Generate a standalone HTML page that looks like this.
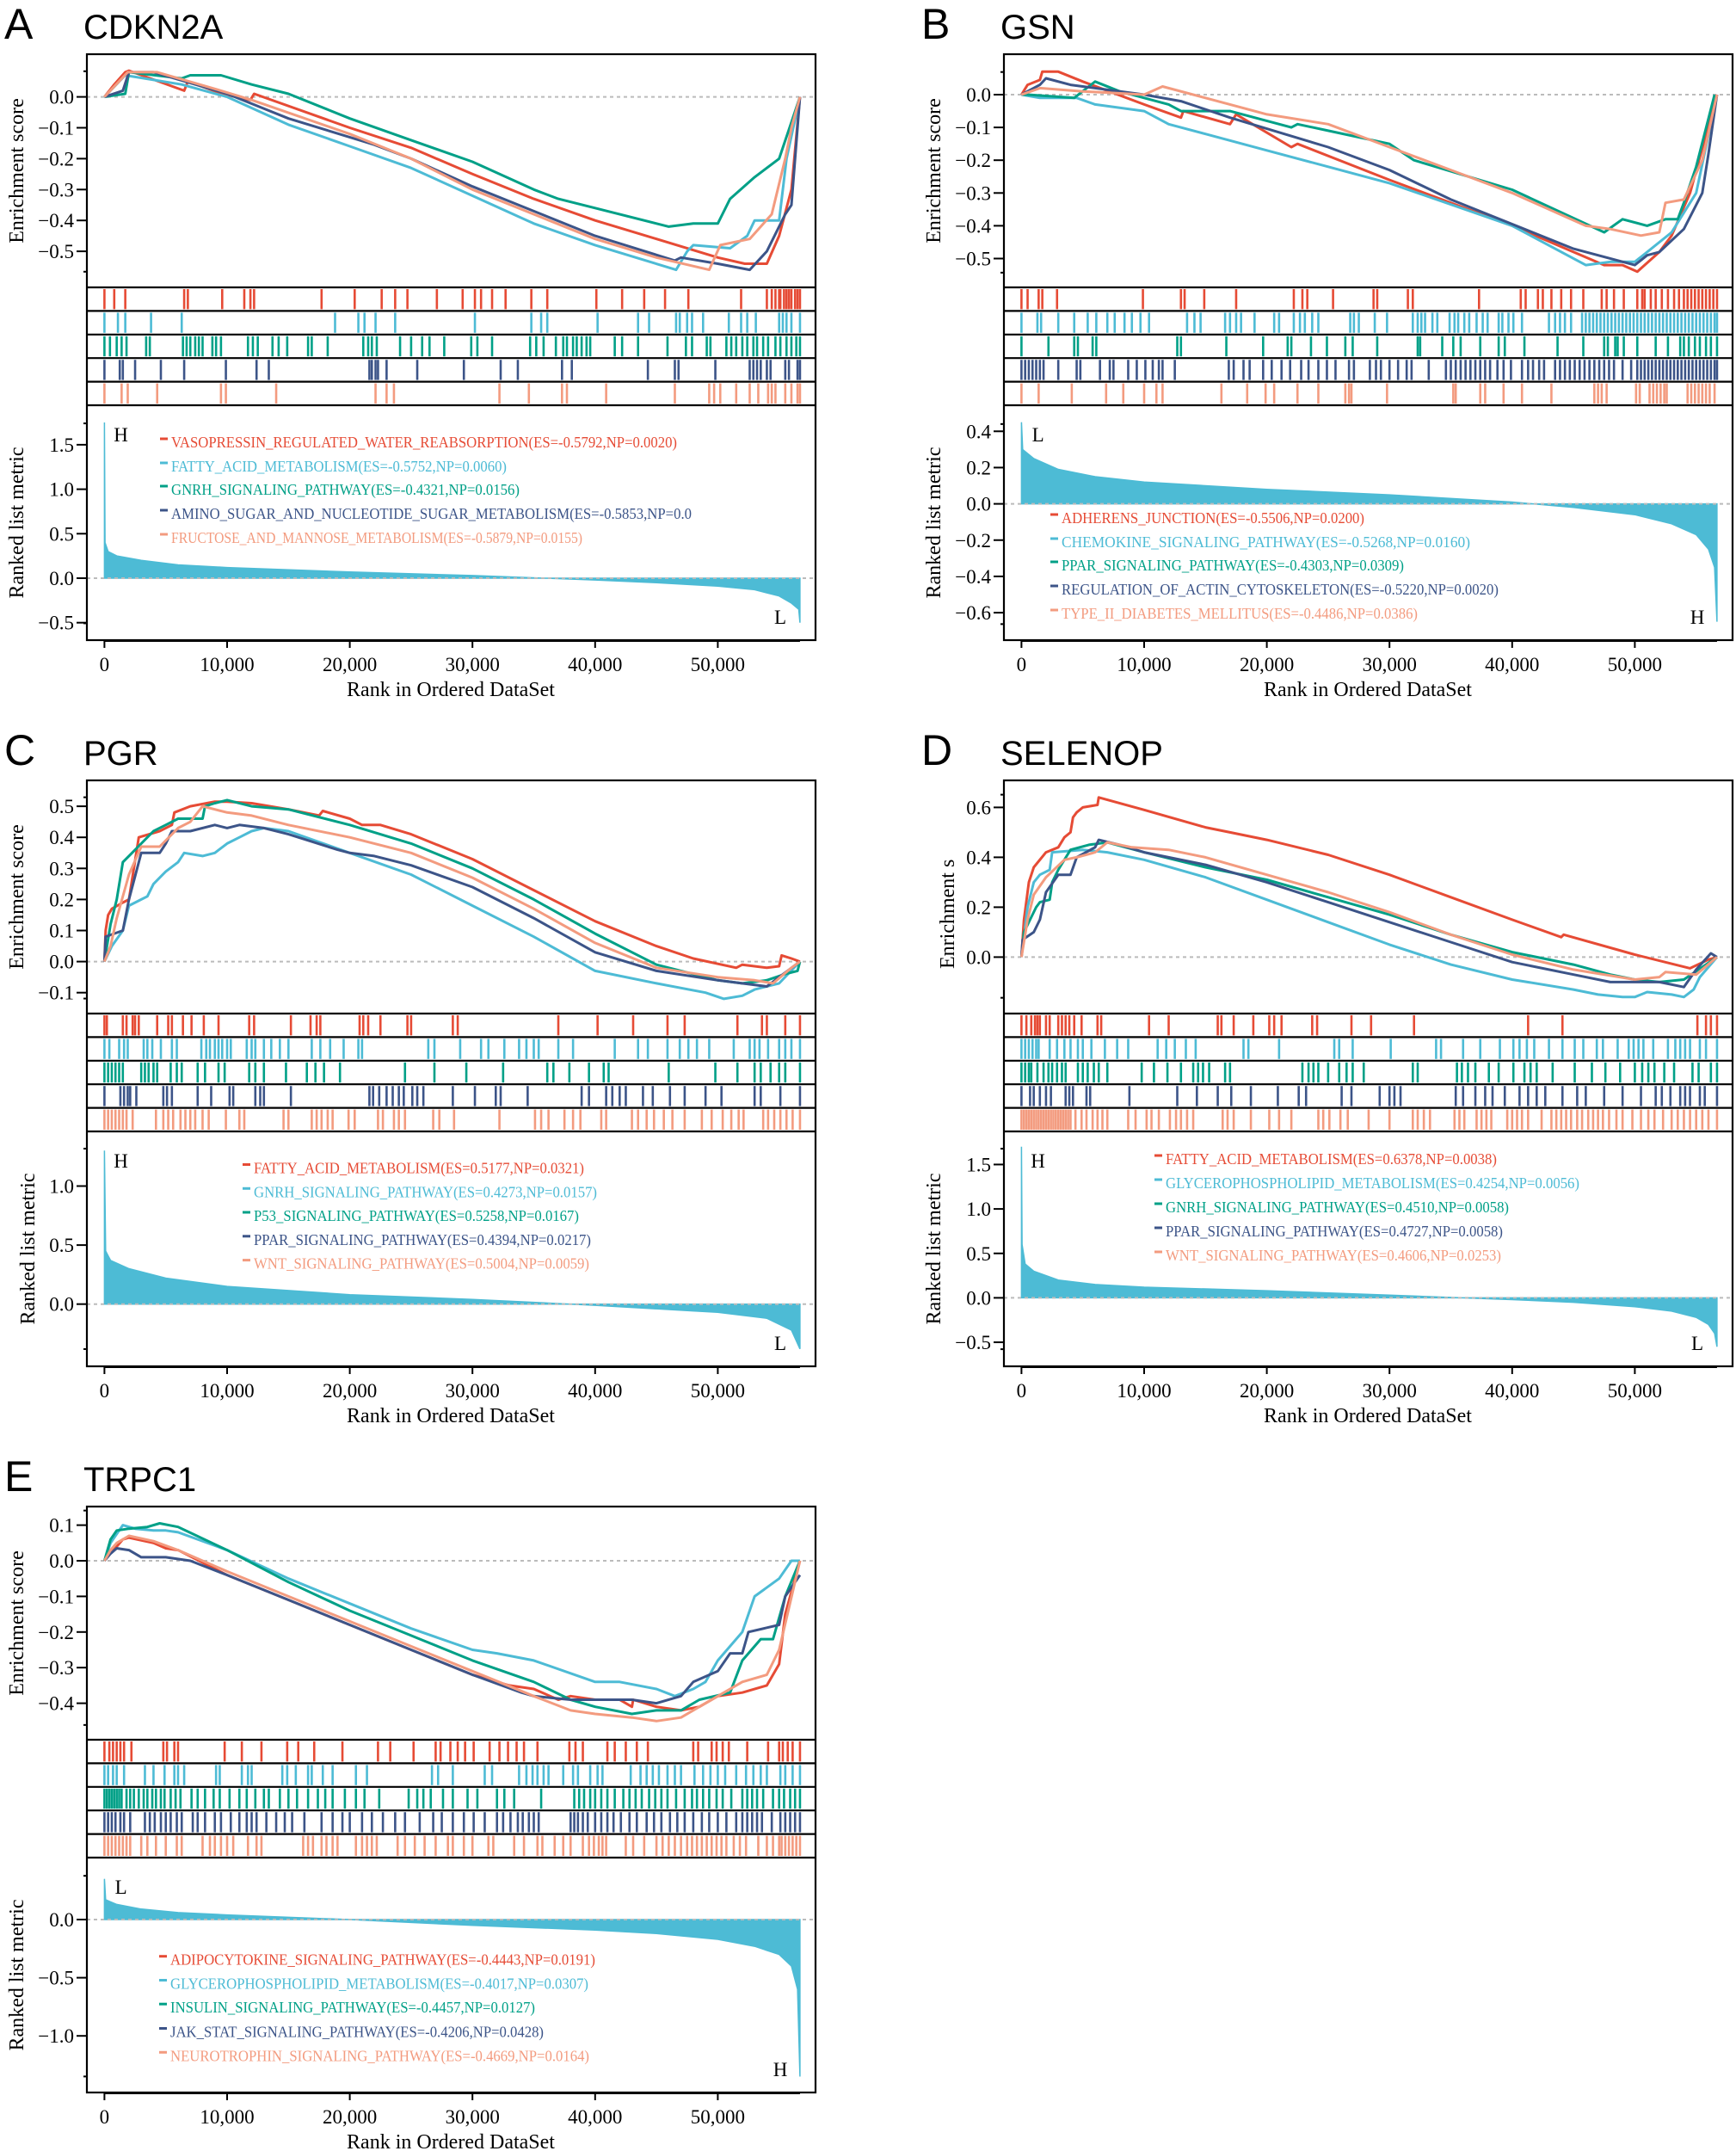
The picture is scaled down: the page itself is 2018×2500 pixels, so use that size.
<!DOCTYPE html>
<html><head><meta charset="utf-8"><style>
html,body{margin:0;padding:0;background:#fff;}
svg{display:block;}
</style></head><body>
<svg id="fig" xmlns="http://www.w3.org/2000/svg" width="2018" height="2500" viewBox="0 0 2018 2500"></svg>
<script>
// ---------- shared ----------
const seriesColors = ['#E64B35','#4DBBD5','#00A087','#3C5488','#F39B7F'];
const seriesKeys = ['red','cyan','green','navy','salmon'];
const xTicks = [0,10000,20000,30000,40000,50000];
const xTickLabels = ['0','10,000','20,000','30,000','40,000','50,000'];

// ---------- Panel A : CDKN2A (rank in thousands, ES) ----------
const A_es_red = [[0,0],[0.8,0.04],[1.7,0.08],[2,0.085],[6.5,0.02],[6.8,0.05],[9.6,0.01],[11.9,-0.01],[12.2,0.01],[20,-0.1],[25,-0.165],[30,-0.25],[35,-0.33],[40,-0.4],[45,-0.46],[50,-0.52],[52.2,-0.54],[54,-0.54],[55,-0.45],[56,-0.3],[56.7,0]];
const A_es_cyan = [[0,0],[1.7,0.07],[6.3,0.04],[10,0],[15,-0.09],[20,-0.16],[25,-0.23],[30,-0.32],[35,-0.41],[40,-0.48],[46.6,-0.56],[47.5,-0.5],[48,-0.48],[51,-0.49],[52.4,-0.45],[53,-0.4],[55,-0.4],[55.6,-0.2],[56.7,0]];
const A_es_green = [[0,0],[1.7,0.01],[2,0.08],[6.3,0.06],[7,0.07],[9.5,0.07],[12,0.04],[15,0.01],[20,-0.07],[25,-0.14],[30,-0.21],[35,-0.3],[37,-0.33],[40,-0.36],[45,-0.41],[46,-0.42],[48,-0.41],[50,-0.41],[51,-0.33],[53,-0.26],[55,-0.2],[56.7,0]];
const A_es_navy = [[0,0],[1.5,0.02],[2,0.08],[4,0.08],[10,0.01],[15,-0.07],[22,-0.155],[25,-0.2],[30,-0.29],[35,-0.37],[40,-0.45],[46.5,-0.53],[47,-0.52],[50,-0.54],[52.6,-0.56],[54,-0.5],[55.5,-0.38],[56,-0.35],[56.7,0]];
const A_es_salmon = [[0,0],[1.9,0.08],[4.3,0.08],[9.5,0.02],[12,-0.01],[20,-0.12],[25,-0.2],[30,-0.3],[35,-0.38],[40,-0.46],[45,-0.52],[49.3,-0.56],[50.2,-0.48],[52.6,-0.46],[54.4,-0.38],[55.5,-0.2],[56,-0.1],[56.7,0]];
const A_rug_red = [0,0.8,1.7,6.5,6.8,9.6,11.4,11.9,12.2,17.7,20.4,22.6,23.7,24.7,27.1,29.2,30.2,30.7,31.6,32.7,34.8,36.1,40.1,42.2,44.0,45.7,47.6,51.9,54.0,54.4,54.7,55.0,55.1,55.4,55.6,55.8,56.0,56.3,56.5,56.7];
const A_rug_cyan = [0,1.1,1.7,3.8,6.3,18.8,20.7,21.2,22.1,23.7,30.2,34.8,35.6,36.1,40.2,43.5,44.4,46.6,46.9,47.5,47.9,48.8,50.9,51.9,52.4,53.1,55.0,55.3,55.6,56.0,56.7];
const A_rug_green = [0,0.45,1.0,1.4,1.8,3.4,3.7,6.4,6.7,7.0,7.4,7.7,8.0,8.8,9.1,9.5,11.7,12.1,12.5,13.7,14.2,14.9,16.6,16.9,18.2,21.1,21.5,21.8,22.2,24.1,25.0,25.9,26.5,27.7,29.9,30.4,31.6,34.7,35.2,35.8,36.8,37.4,37.7,38.2,38.5,38.9,39.3,39.6,41.6,42.2,43.5,45.9,47.4,47.9,49.1,49.4,50.7,51.1,51.5,52.0,52.4,52.9,53.2,53.7,54.1,54.7,55.1,55.6,56.0,56.4,56.7];
const A_rug_navy = [0,1.25,1.5,2.5,4.6,6.5,9.9,12.4,13.4,21.6,21.8,22.1,22.3,23.0,25.5,29.3,32.3,33.7,37.3,38.1,44.3,46.5,46.8,49.8,52.6,52.9,53.2,53.5,54.0,54.3,55.5,55.8,56.5,56.7];
const A_rug_salmon = [0,1.4,1.9,4.3,9.5,9.9,14.0,22.1,23.0,23.6,32.2,34.6,37.3,37.7,40.9,46.5,49.3,49.7,50.2,51.5,52.6,53.3,54.1,54.4,54.7,55.5,56.0,56.5,56.7];
const A_ranked = [[0,1.75],[0.05,0.4],[0.3,0.3],[1,0.25],[3,0.2],[6,0.15],[10,0.12],[20,0.07],[30,0.03],[40,-0.02],[45,-0.05],[50,-0.09],[53,-0.13],[55,-0.2],[56,-0.28],[56.6,-0.35],[56.7,-0.5]];
const A_esTicks = [0.0,-0.1,-0.2,-0.3,-0.4,-0.5];
const A_rankTicks = [1.5,1.0,0.5,0.0,-0.5];
const A_legend = ['VASOPRESSIN_REGULATED_WATER_REABSORPTION(ES=-0.5792,NP=0.0020)','FATTY_ACID_METABOLISM(ES=-0.5752,NP=0.0060)','GNRH_SIGNALING_PATHWAY(ES=-0.4321,NP=0.0156)','AMINO_SUGAR_AND_NUCLEOTIDE_SUGAR_METABOLISM(ES=-0.5853,NP=0.0','FRUCTOSE_AND_MANNOSE_METABOLISM(ES=-0.5879,NP=0.0155)'];

// ---------- Panel B : GSN ----------
const B_es_red = [[0,0],[0.5,0.03],[1.5,0.045],[1.7,0.07],[3,0.07],[5,0.04],[10,-0.03],[13,-0.07],[13.2,-0.05],[17,-0.09],[17.5,-0.06],[22,-0.16],[22.5,-0.15],[30,-0.26],[40,-0.4],[45,-0.48],[47.5,-0.52],[49,-0.52],[50.2,-0.54],[50.8,-0.52],[52,-0.48],[53,-0.43],[54.5,-0.3],[56.7,0]];
const B_es_cyan = [[0,0],[1.5,-0.01],[4.5,-0.01],[6,-0.03],[10,-0.05],[12,-0.09],[15,-0.12],[20,-0.17],[25,-0.22],[30,-0.27],[40,-0.4],[46,-0.52],[48,-0.51],[50,-0.51],[51,-0.48],[53,-0.42],[55,-0.3],[56.7,0]];
const B_es_green = [[0,0],[0.5,0],[4.3,-0.01],[6,0.04],[8,0.01],[12,-0.03],[13,-0.05],[16,-0.05],[17,-0.05],[22,-0.1],[22.5,-0.09],[25,-0.11],[30,-0.15],[32,-0.2],[40,-0.29],[47.5,-0.42],[49,-0.38],[51,-0.4],[52.5,-0.38],[53.5,-0.38],[54,-0.33],[55,-0.22],[56.5,0]];
const B_es_navy = [[0,0],[1.5,0.03],[2,0.05],[4,0.03],[10,0],[13,-0.02],[17,-0.07],[25,-0.16],[30,-0.23],[35,-0.32],[45,-0.47],[50,-0.52],[51,-0.49],[52,-0.48],[54,-0.41],[55.5,-0.3],[56,-0.18],[56.7,0]];
const B_es_salmon = [[0,0],[1.5,0.02],[5,0.01],[10,0],[11.5,0.025],[15,-0.01],[20,-0.06],[25,-0.09],[30,-0.16],[35,-0.23],[40,-0.3],[46,-0.4],[48,-0.41],[50.5,-0.43],[52,-0.42],[52.5,-0.33],[54,-0.32],[55.5,-0.2],[56.7,0]];
const B_rug_red = [0,0.5,1.4,1.7,2.9,9.9,13.0,13.3,14.9,17.5,22.2,22.9,23.3,25.4,28.7,29.0,31.5,31.9,37.3,40.7,41.1,42.1,42.5,43.2,44.0,44.8,45.8,47.3,47.7,48.3,49.1,50.2,50.6,50.8,51.3,51.7,52.2,52.7,53.2,53.6,54.0,54.3,54.6,54.9,55.2,55.5,55.8,56.1,56.4,56.7];
const B_rug_cyan = [0,1.3,1.6,3.0,4.3,5.4,6.1,7.0,7.6,8.4,9.0,9.7,10.4,13.5,14.1,14.6,16.6,17.0,17.5,17.9,19.0,20.6,21.0,22.2,22.7,23.1,23.7,24.2,26.8,27.1,27.5,28.8,29.8,31.9,32.3,32.6,32.9,33.5,33.9,34.9,35.3,35.6,36.1,36.5,37.1,37.6,38.0,38.9,39.2,39.7,40.1,40.8,43.0,43.5,43.9,44.3,44.8,45.7,46.0,46.3,46.6,46.9,47.2,47.5,47.8,48.1,48.4,48.7,49.0,49.3,49.6,49.9,50.2,50.5,50.8,51.1,51.4,51.7,52.0,52.3,52.6,52.9,53.2,53.5,53.8,54.1,54.4,54.7,55.0,55.3,55.6,55.9,56.2,56.5,56.7];
const B_rug_green = [0,2.2,4.3,4.6,5.8,6.1,12.7,13.0,16.7,19.7,21.7,22.0,23.6,24.9,26.4,27.0,29.0,32.3,32.5,34.3,35.2,35.8,37.4,38.9,39.4,41.0,43.7,45.8,47.5,47.8,48.4,48.6,49.1,50.2,51.7,52.7,53.7,54.0,54.4,54.9,55.3,55.8,56.2,56.7];
const B_rug_navy = [0,0.3,0.6,0.9,1.2,1.5,1.8,3.0,4.5,4.8,6.4,7.2,7.5,8.7,9.4,10.1,10.7,11.2,11.5,12.5,16.9,17.3,18.1,18.6,19.7,20.4,21.2,21.9,22.8,23.4,24.2,24.9,25.6,26.7,27.1,28.4,28.9,29.3,30.0,30.7,31.4,31.8,33.2,34.6,35.0,35.4,35.8,36.2,36.6,37.0,37.4,37.8,38.2,38.8,39.3,39.9,40.8,41.3,41.7,42.2,42.6,43.5,43.9,44.3,44.7,45.1,45.5,45.9,46.3,46.7,47.1,47.5,47.9,48.3,49.0,49.7,50.2,50.5,50.8,51.1,51.4,51.7,52.0,52.3,52.6,52.9,53.2,53.5,53.8,54.1,54.4,54.7,55.0,55.3,55.6,55.9,56.2,56.5,56.7];
const B_rug_salmon = [0,1.4,4.1,6.9,8.3,10.0,11.0,11.5,16.3,18.4,19.9,20.6,22.5,24.2,26.4,26.7,26.9,29.8,35.2,35.4,37.4,37.8,39.3,40.8,43.2,46.7,47.0,47.3,47.7,50.1,50.4,51.2,51.5,51.8,52.1,52.4,52.6,54.3,54.6,54.9,55.2,55.5,55.8,56.1,56.5];
const B_ranked = [[0,0.45],[0.1,0.3],[1,0.25],[3,0.19],[6,0.15],[10,0.12],[20,0.08],[30,0.05],[40,0.01],[45,-0.02],[50,-0.06],[53,-0.11],[55,-0.17],[56,-0.25],[56.5,-0.35],[56.7,-0.65]];
const B_esTicks = [0.0,-0.1,-0.2,-0.3,-0.4,-0.5];
const B_rankTicks = [0.4,0.2,0.0,-0.2,-0.4,-0.6];
const B_legend = ['ADHERENS_JUNCTION(ES=-0.5506,NP=0.0200)','CHEMOKINE_SIGNALING_PATHWAY(ES=-0.5268,NP=0.0160)','PPAR_SIGNALING_PATHWAY(ES=-0.4303,NP=0.0309)','REGULATION_OF_ACTIN_CYTOSKELETON(ES=-0.5220,NP=0.0020)','TYPE_II_DIABETES_MELLITUS(ES=-0.4486,NP=0.0386)'];

// ---------- Panel C : PGR ----------
const C_es_red = [[0,0],[0.1,0.1],[0.3,0.15],[0.6,0.17],[1.5,0.19],[2,0.2],[2.8,0.4],[4.5,0.42],[5.5,0.44],[5.7,0.48],[7,0.5],[9,0.515],[10,0.515],[12,0.51],[15,0.49],[17.5,0.47],[17.8,0.485],[20,0.46],[21,0.44],[22.5,0.44],[25,0.41],[30,0.33],[35,0.23],[40,0.13],[45,0.05],[48,0.01],[51.5,-0.02],[52,-0.01],[54,-0.02],[55,-0.015],[55.2,0.02],[56,0.01],[56.7,0]];
const C_es_cyan = [[0,0],[0.6,0.05],[1.5,0.1],[2,0.18],[3,0.2],[3.5,0.21],[4,0.25],[5,0.29],[6,0.32],[6.5,0.35],[8,0.34],[9,0.35],[10,0.38],[11,0.4],[12,0.42],[13,0.43],[15,0.42],[20,0.35],[25,0.28],[30,0.18],[35,0.08],[40,-0.03],[45,-0.07],[49,-0.1],[50.5,-0.12],[52,-0.11],[53,-0.09],[55,-0.07],[56.7,0]];
const C_es_green = [[0,0],[0.5,0.12],[1,0.2],[1.5,0.32],[2,0.34],[4,0.42],[5,0.44],[6,0.46],[8,0.46],[8.2,0.5],[9,0.51],[10,0.52],[12,0.5],[15,0.49],[20,0.44],[25,0.38],[30,0.3],[35,0.2],[40,0.09],[45,-0.01],[50,-0.06],[52,-0.07],[54,-0.06],[55.5,-0.04],[56.5,-0.03],[56.7,0]];
const C_es_navy = [[0,0],[0.1,0.08],[1.5,0.1],[2,0.2],[3,0.35],[4.5,0.35],[5,0.38],[5.5,0.42],[7,0.42],[9,0.44],[10,0.43],[11,0.44],[13,0.43],[15,0.41],[19,0.36],[20,0.35],[22,0.34],[25,0.31],[30,0.24],[35,0.14],[40,0.03],[45,-0.03],[50,-0.06],[54,-0.08],[55,-0.05],[56.7,0]];
const C_es_salmon = [[0,0],[0.5,0.05],[1,0.14],[2,0.28],[3,0.37],[4.5,0.37],[6,0.43],[7,0.45],[8,0.5],[9,0.49],[10,0.48],[12,0.47],[15,0.44],[20,0.4],[25,0.35],[30,0.27],[35,0.17],[40,0.06],[45,-0.02],[50,-0.05],[53,-0.06],[54.5,-0.07],[56,-0.02],[56.7,0]];
const C_rug_red = [0,0.2,1.5,1.8,2.3,2.5,2.8,4.3,5.2,5.5,6.4,7.1,8.1,9.3,11.8,12.2,15.2,16.8,17.3,17.6,20.8,21.1,21.5,22.5,24.7,25.0,28.4,28.8,37.0,40.2,43.1,45.9,47.3,51.6,53.6,54.0,55.5,56.7];
const C_rug_cyan = [0,0.4,1.2,1.6,1.9,3.2,3.5,3.9,4.6,5.5,5.9,7.9,8.3,8.6,9.0,9.3,9.6,10.0,10.3,11.6,12.0,12.3,13.0,13.6,14.3,15.0,16.9,17.6,18.4,19.5,20.7,21.0,26.4,26.9,29.0,30.7,31.3,32.6,33.8,34.4,35.0,35.4,37.0,38.2,41.6,43.5,44.3,45.9,46.9,47.6,48.3,49.3,51.3,52.6,53.0,53.4,54.1,55.0,55.5,56.0,56.7];
const C_rug_green = [0,0.3,0.6,0.9,1.2,1.5,3.0,3.3,3.6,4.0,4.3,5.4,5.9,6.3,7.6,8.2,9.3,9.8,11.8,12.3,13.0,14.8,16.5,17.2,17.9,19.2,24.5,26.9,29.5,32.5,36.1,36.6,37.9,39.5,40.7,41.1,46.0,49.8,51.6,53.0,53.5,54.3,55.0,55.5,56.7];
const C_rug_navy = [0,1.3,1.6,1.9,2.1,2.6,4.8,5.1,5.5,7.6,8.7,10.2,10.5,12.3,12.7,13.0,15.2,21.6,21.9,22.4,23.0,23.5,24.0,24.4,25.1,25.5,26.0,28.4,30.2,31.9,32.3,34.5,38.9,39.5,40.9,41.4,42.0,42.5,43.9,44.7,46.1,47.3,49.0,50.3,53.0,53.5,55.1,56.7];
const C_rug_salmon = [0,0.3,0.6,0.9,1.2,1.5,1.8,2.3,4.2,4.8,5.2,5.6,6.2,6.6,7.0,7.4,8.0,8.5,9.9,11.0,11.4,14.6,15.0,16.9,17.3,17.7,18.2,18.6,19.9,20.4,22.3,22.7,23.6,24.0,24.5,26.8,27.3,28.5,32.2,35.1,35.6,36.2,37.5,38.2,38.8,40.5,40.9,43.0,43.5,44.2,44.8,45.6,46.3,47.3,48.7,49.5,50.4,51.1,51.7,52.1,53.7,54.1,54.6,55.1,55.6,56.1,56.7];
const C_ranked = [[0,1.3],[0.1,0.45],[0.5,0.37],[2,0.3],[5,0.22],[10,0.15],[20,0.08],[30,0.04],[40,-0.01],[50,-0.07],[54,-0.12],[56,-0.22],[56.7,-0.38]];
const C_esTicks = [0.5,0.4,0.3,0.2,0.1,0.0,-0.1];
const C_rankTicks = [1.0,0.5,0.0];
const C_legend = ['FATTY_ACID_METABOLISM(ES=0.5177,NP=0.0321)','GNRH_SIGNALING_PATHWAY(ES=0.4273,NP=0.0157)','P53_SIGNALING_PATHWAY(ES=0.5258,NP=0.0167)','PPAR_SIGNALING_PATHWAY(ES=0.4394,NP=0.0217)','WNT_SIGNALING_PATHWAY(ES=0.5004,NP=0.0059)'];

// ---------- Panel D : SELENOP ----------
const D_es_red = [[0,0],[0.2,0.15],[0.6,0.3],[1,0.36],[2,0.42],[3,0.44],[3.5,0.48],[4,0.5],[4.2,0.56],[4.5,0.58],[5,0.6],[6.2,0.61],[6.3,0.64],[10,0.59],[15,0.52],[17,0.5],[20,0.47],[25,0.41],[30,0.33],[35,0.24],[40,0.15],[44,0.08],[44.2,0.09],[50,0.01],[54.5,-0.045],[56,-0.01],[56.7,0]];
const D_es_cyan = [[0,0],[0.5,0.2],[1,0.3],[1.5,0.33],[2.3,0.35],[2.5,0.42],[5,0.43],[7,0.42],[10,0.39],[15,0.32],[20,0.23],[25,0.14],[30,0.05],[35,-0.03],[40,-0.09],[45,-0.13],[47,-0.15],[49,-0.16],[50,-0.16],[51,-0.14],[53,-0.15],[54,-0.16],[54.8,-0.13],[55.3,-0.08],[56.7,0]];
const D_es_green = [[0,0],[0.2,0.1],[1.2,0.2],[1.5,0.22],[2.3,0.23],[2.5,0.3],[3,0.35],[4,0.43],[5.5,0.45],[7,0.46],[10,0.42],[15,0.36],[20,0.31],[25,0.24],[30,0.17],[35,0.09],[40,0.02],[45,-0.03],[48,-0.07],[50,-0.09],[52,-0.1],[54,-0.09],[55.5,-0.04],[56.7,0]];
const D_es_navy = [[0,0],[0.1,0.07],[1,0.1],[1.5,0.15],[2,0.26],[3,0.33],[4,0.33],[4.5,0.4],[6,0.44],[6.3,0.47],[8,0.45],[10,0.42],[15,0.37],[20,0.3],[25,0.22],[30,0.14],[35,0.06],[40,-0.02],[45,-0.07],[48,-0.1],[50,-0.1],[52,-0.1],[54,-0.12],[55,-0.05],[56.2,0.015],[56.7,0]];
const D_es_salmon = [[0,0],[0.5,0.15],[1,0.25],[2,0.32],[3.5,0.39],[4.5,0.4],[6,0.42],[7,0.46],[9,0.44],[12,0.43],[15,0.4],[20,0.33],[25,0.26],[30,0.18],[35,0.09],[40,0.01],[45,-0.05],[50,-0.09],[52,-0.08],[52.5,-0.06],[55,-0.07],[56.7,0]];
const D_rug_red = [0,0.4,0.8,1.1,1.3,1.5,2.0,2.3,3.0,3.3,3.6,3.9,4.3,4.9,6.2,6.5,10.4,12.0,16.0,16.3,17.3,18.9,20.2,20.6,21.2,23.7,24.1,26.9,28.5,32.0,41.3,44.1,55.1,55.8,56.2,56.7];
const D_rug_cyan = [0,0.3,0.6,0.9,1.2,1.4,2.3,2.9,3.5,4.0,4.6,5.0,5.7,6.8,7.8,8.7,11.1,11.8,12.5,13.4,14.2,18.1,18.5,21.0,25.5,25.9,27.0,30.1,33.8,34.2,36.0,37.4,39.0,40.1,40.6,41.2,41.8,43.0,44.1,45.1,45.8,46.9,47.4,48.6,49.5,49.9,50.3,50.7,51.5,52.7,53.3,53.7,54.1,54.5,55.3,55.8,56.7];
const D_rug_green = [0,0.3,0.6,0.8,1.3,1.8,2.2,2.5,2.9,3.3,3.6,4.6,5.0,5.4,5.9,6.3,7.0,9.8,10.8,11.9,13.0,14.0,14.4,14.8,15.3,16.6,17.0,22.9,23.4,23.8,24.2,25.0,25.9,26.5,27.0,27.9,31.9,32.3,35.5,35.9,36.4,37.0,38.1,38.9,40.1,41.0,41.5,42.0,43.3,45.1,46.5,47.6,48.8,50.0,50.6,51.1,51.6,52.4,53.2,54.7,55.2,56.2,56.7];
const D_rug_navy = [0,0.7,1.0,1.5,2.0,2.4,3.6,3.9,4.2,5.3,5.6,8.8,12.7,14.3,16.0,17.1,18.7,20.9,22.6,23.2,26.1,26.9,29.2,30.0,30.4,30.9,35.4,36.0,37.0,37.8,38.4,39.4,40.6,41.3,42.0,42.7,44.1,45.3,46.0,47.5,49.0,50.5,51.7,52.2,52.9,53.7,54.1,54.5,55.3,55.7,56.7];
const D_rug_salmon = [0,0.2,0.4,0.6,0.8,1.0,1.2,1.4,1.6,1.8,2.0,2.2,2.4,2.6,2.8,3.0,3.2,3.4,3.6,3.8,4.0,4.4,4.9,5.3,5.8,6.2,6.6,7.0,8.7,9.3,10.2,10.6,11.2,12.1,12.6,13.0,13.5,14.0,16.4,16.8,17.3,18.7,20.2,21.0,22.0,24.2,24.6,25.1,26.0,26.6,28.3,30.0,31.9,32.3,32.8,33.3,35.3,35.7,36.1,37.1,37.5,37.9,38.3,39.6,40.0,40.4,40.8,41.3,42.4,43.2,43.6,44.0,44.4,44.8,45.3,45.7,46.2,46.6,47.0,47.4,47.9,48.5,49.0,49.8,50.5,51.1,51.6,52.3,53.0,53.5,54.0,54.5,55.0,55.5,56.0,56.7];
const D_ranked = [[0,1.7],[0.05,0.6],[0.3,0.38],[1,0.3],[3,0.2],[6,0.15],[10,0.12],[20,0.08],[30,0.03],[40,-0.02],[45,-0.05],[50,-0.1],[53,-0.15],[55,-0.22],[56,-0.3],[56.5,-0.4],[56.7,-0.55]];
const D_esTicks = [0.6,0.4,0.2,0.0];
const D_rankTicks = [1.5,1.0,0.5,0.0,-0.5];
const D_legend = ['FATTY_ACID_METABOLISM(ES=0.6378,NP=0.0038)','GLYCEROPHOSPHOLIPID_METABOLISM(ES=0.4254,NP=0.0056)','GNRH_SIGNALING_PATHWAY(ES=0.4510,NP=0.0058)','PPAR_SIGNALING_PATHWAY(ES=0.4727,NP=0.0058)','WNT_SIGNALING_PATHWAY(ES=0.4606,NP=0.0253)'];

// ---------- Panel E : TRPC1 ----------
const E_es_red = [[0,0],[0.5,0.03],[1,0.04],[1.5,0.06],[2,0.065],[4,0.05],[5,0.035],[6,0.03],[10,-0.04],[15,-0.11],[20,-0.18],[25,-0.25],[30,-0.32],[33,-0.35],[35,-0.36],[37,-0.39],[38,-0.38],[40,-0.39],[42,-0.39],[43,-0.41],[43.1,-0.39],[45,-0.41],[47,-0.42],[48.5,-0.41],[50,-0.38],[52,-0.37],[54,-0.35],[55,-0.29],[55.5,-0.15],[56.7,0]];
const E_es_cyan = [[0,0],[0.5,0.05],[1.5,0.1],[2.5,0.09],[4,0.085],[5,0.085],[6,0.08],[10,0.03],[15,-0.05],[20,-0.12],[25,-0.19],[30,-0.25],[32,-0.26],[35,-0.28],[40,-0.34],[42,-0.34],[45,-0.36],[46.5,-0.38],[48,-0.36],[49,-0.34],[50,-0.28],[52,-0.2],[53,-0.1],[55,-0.05],[56,0.0],[56.7,0]];
const E_es_green = [[0,0],[0.5,0.06],[1,0.085],[2,0.09],[3.5,0.095],[4.5,0.105],[6,0.095],[10,0.03],[15,-0.06],[20,-0.14],[25,-0.21],[30,-0.28],[35,-0.34],[38,-0.39],[40,-0.41],[43,-0.43],[45,-0.42],[47,-0.42],[48.5,-0.39],[51,-0.37],[52,-0.28],[53.5,-0.22],[54.5,-0.22],[55.5,-0.1],[56.7,0]];
const E_es_navy = [[0,0],[0.5,0.02],[1,0.035],[2,0.03],[3,0.01],[5,0.01],[7,0.0],[10,-0.04],[15,-0.11],[20,-0.18],[25,-0.25],[30,-0.32],[34,-0.37],[35,-0.38],[38,-0.39],[40,-0.39],[43,-0.39],[45,-0.4],[47,-0.38],[48,-0.34],[50,-0.31],[51,-0.26],[52,-0.26],[52.5,-0.2],[55,-0.18],[55.5,-0.1],[56.7,-0.04]];
const E_es_salmon = [[0,0],[0.5,0.03],[1,0.05],[2,0.07],[4,0.055],[6,0.03],[10,-0.03],[15,-0.1],[20,-0.17],[25,-0.24],[30,-0.31],[35,-0.38],[38,-0.42],[40,-0.43],[43,-0.44],[45,-0.45],[47,-0.44],[48.5,-0.41],[50,-0.38],[52,-0.34],[54,-0.32],[55,-0.25],[56.7,0]];
const E_rug_red = [0,0.4,0.7,1.0,1.3,1.6,2.2,4.8,5.1,5.7,6.0,9.8,11.2,12.8,14.9,15.8,17.1,19.4,22.3,23.3,25.2,27.0,27.4,28.2,28.8,29.4,30.1,31.4,32.2,32.9,33.6,34.2,35.3,37.9,38.4,39.0,41.0,41.6,42.5,43.4,44.3,48.0,48.4,49.5,49.9,50.4,50.9,52.4,54.1,55.0,55.3,55.7,56.1,56.7];
const E_rug_cyan = [0,0.3,0.7,1.0,1.6,3.3,4.0,4.9,5.7,6.0,6.5,9.1,9.4,11.2,11.7,12.0,14.5,14.9,15.6,16.6,16.9,17.8,18.6,20.5,21.4,26.7,27.2,28.4,31.0,31.6,33.8,34.4,34.9,35.3,35.8,36.2,37.4,38.2,38.6,39.6,40.2,40.6,42.9,43.7,44.2,44.7,45.2,45.9,46.5,47.0,48.1,48.8,49.4,50.0,50.6,51.5,52.3,52.9,53.5,54.0,55.1,55.5,56.1,56.7];
const E_rug_green = [0,0.2,0.4,0.6,0.8,1.0,1.2,1.4,1.8,2.1,2.4,2.8,3.2,3.5,3.9,4.2,4.6,4.9,5.4,5.8,6.2,7.1,7.6,8.2,8.9,9.4,10.2,11.0,11.6,12.3,13.0,13.4,14.3,15.0,15.7,16.6,17.4,18.0,18.6,19.6,20.5,21.2,22.4,24.8,25.5,26.0,26.6,27.6,28.4,29.6,30.4,32.0,32.6,33.4,35.6,38.3,38.7,39.1,39.6,40.0,40.5,41.0,41.6,42.3,42.8,43.3,43.8,44.4,44.9,45.4,45.9,46.6,47.3,47.9,48.3,48.8,49.3,49.9,50.4,51.1,52.0,52.4,52.8,53.2,53.7,54.5,55.0,55.4,55.9,56.3,56.7];
const E_rug_navy = [0,0.3,0.6,0.9,1.3,1.6,2.1,3.3,3.7,4.1,4.6,5.0,5.4,5.9,6.3,7.2,7.6,8.2,9.0,9.5,10.3,11.0,11.6,12.0,12.4,13.2,14.0,14.7,15.3,16.3,17.7,18.6,19.4,20.0,21.0,21.8,22.7,23.7,24.5,25.7,26.8,27.5,28.4,29.3,30.1,31.0,32.0,32.5,33.1,33.7,34.1,34.6,35.0,35.4,38.0,38.3,38.6,39.0,39.4,40.0,40.5,41.0,41.5,42.1,42.8,43.4,44.2,44.8,45.4,46.1,46.7,47.3,48.0,48.7,49.3,50.0,50.7,51.5,52.0,52.4,52.8,53.2,53.6,54.4,55.1,55.5,55.9,56.3,56.7];
const E_rug_salmon = [0,0.3,0.6,0.9,1.2,1.5,1.8,2.1,3.0,3.5,4.2,5.0,5.9,6.3,8.0,8.6,9.0,9.5,10.0,10.5,11.7,12.4,12.8,16.2,16.6,17.0,17.7,18.1,18.6,19.0,20.5,21.0,21.4,21.8,22.2,23.9,24.5,25.3,26.1,27.0,28.0,28.4,29.3,30.0,31.3,31.7,33.4,34.2,35.3,35.7,36.7,37.4,38.0,39.0,39.5,39.9,40.3,40.6,40.9,42.5,43.1,44.0,45.0,45.5,46.0,46.5,47.0,47.5,47.9,48.3,48.7,49.1,49.5,49.9,50.3,50.7,51.3,51.8,52.3,53.3,54.0,54.5,55.0,55.2,55.5,55.8,56.1,56.4,56.7];
const E_ranked = [[0,0.35],[0.1,0.17],[1,0.13],[3,0.09],[6,0.06],[10,0.04],[20,0.0],[30,-0.05],[40,-0.09],[45,-0.12],[50,-0.17],[53,-0.23],[55,-0.3],[56,-0.4],[56.5,-0.6],[56.7,-1.35]];
const E_esTicks = [0.1,0.0,-0.1,-0.2,-0.3,-0.4];
const E_rankTicks = [0.0,-0.5,-1.0];
const E_legend = ['ADIPOCYTOKINE_SIGNALING_PATHWAY(ES=-0.4443,NP=0.0191)','GLYCEROPHOSPHOLIPID_METABOLISM(ES=-0.4017,NP=0.0307)','INSULIN_SIGNALING_PATHWAY(ES=-0.4457,NP=0.0127)','JAK_STAT_SIGNALING_PATHWAY(ES=-0.4206,NP=0.0428)','NEUROTROPHIN_SIGNALING_PATHWAY(ES=-0.4669,NP=0.0164)'];

// ---------- layout (pixels, not data) ----------
const panels = [
 {id:'a',letter:'A',gene:'CDKN2A',dx:0,dy:0,es:[A_es_red,A_es_cyan,A_es_green,A_es_navy,A_es_salmon],rug:[A_rug_red,A_rug_cyan,A_rug_green,A_rug_navy,A_rug_salmon],ranked:A_ranked,esTicks:A_esTicks,rankTicks:A_rankTicks,legend:A_legend,
  esZero:112.6,esScale:359,esRange:[0.083,-0.566],rkZero:672,rkScale:103.4,rkRange:[1.74,-0.507],legX:199,legW:[588,390,405,605,478],legY:[514,542,569,597,625],top:'H',bot:'L',esTitle:'Enrichment score',esTitleX:27,rkTitleX:27},
 {id:'b',letter:'B',gene:'GSN',dx:1066,dy:0,es:[B_es_red,B_es_cyan,B_es_green,B_es_navy,B_es_salmon],rug:[B_rug_red,B_rug_cyan,B_rug_green,B_rug_navy,B_rug_salmon],ranked:B_ranked,esTicks:B_esTicks,rankTicks:B_rankTicks,legend:B_legend,
  esZero:110,esScale:381,esRange:[0.069,-0.543],rkZero:585.6,rkScale:210.8,rkRange:[0.44,-0.663],legX:168,legW:[352,475,398,508,414],legY:[602,630,657,685,713],top:'L',bot:'H',esTitle:'Enrichment score',esTitleX:27,rkTitleX:27},
 {id:'c',letter:'C',gene:'PGR',dx:0,dy:844,es:[C_es_red,C_es_cyan,C_es_green,C_es_navy,C_es_salmon],rug:[C_rug_red,C_rug_cyan,C_rug_green,C_rug_navy,C_rug_salmon],ranked:C_ranked,esTicks:C_esTicks,rankTicks:C_rankTicks,legend:C_legend,
  esZero:273.6,esScale:361,esRange:[0.529,-0.119],rkZero:671.7,rkScale:137.2,rkRange:[1.317,-0.381],legX:295,legW:[384,399,378,392,390],legY:[513.5,541.3,569,596.8,624.6],top:'H',bot:'L',esTitle:'Enrichment score',esTitleX:27,rkTitleX:40},
 {id:'d',letter:'D',gene:'SELENOP',dx:1066,dy:844,es:[D_es_red,D_es_cyan,D_es_green,D_es_navy,D_es_salmon],rug:[D_rug_red,D_rug_cyan,D_rug_green,D_rug_navy,D_rug_salmon],ranked:D_ranked,esTicks:D_esTicks,rankTicks:D_rankTicks,legend:D_legend,
  esZero:268.4,esScale:290,esRange:[0.651,-0.163],rkZero:664.4,rkScale:103.3,rkRange:[1.678,-0.578],legX:289,legW:[385,481,399,392,390],legY:[503,531,559,587,615],top:'H',bot:'L',esTitle:'Enrichment s',esTitleX:43,rkTitleX:27},
 {id:'e',letter:'E',gene:'TRPC1',dx:0,dy:1688,es:[E_es_red,E_es_cyan,E_es_green,E_es_navy,E_es_salmon],rug:[E_rug_red,E_rug_cyan,E_rug_green,E_rug_navy,E_rug_salmon],ranked:E_ranked,esTicks:E_esTicks,rankTicks:E_rankTicks,legend:E_legend,
  esZero:126,esScale:414,esRange:[0.141,-0.461],rkZero:543,rkScale:135.2,rkRange:[0.376,-1.349],legX:198,legW:[494,486,424,434,487],legY:[589.7,617.5,645.2,673.5,701.3],top:'L',bot:'H',esTitle:'Enrichment score',esTitleX:27,rkTitleX:27}
];

const NS='http://www.w3.org/2000/svg';
const svg=document.getElementById('fig');
function el(tag,attrs,parent,text){const e=document.createElementNS(NS,tag);for(const k in attrs)e.setAttribute(k,attrs[k]);if(text!==undefined)e.textContent=text;(parent||svg).appendChild(e);return e;}
function fmt(v){const s=Math.abs(v).toFixed(1);return (v<-1e-9?'\u2212':'')+s;}
const SERIF='"Liberation Serif", serif', SANS='"Liberation Sans", sans-serif';
const BOX_L=101,BOX_R=948,ES_T=63,ES_B=334,RUG_B=471,RK_B=744;

panels.forEach(p=>{
  const g=el('g',{transform:`translate(${p.dx},${p.dy})`});
  
  
  const xs=k=>121.4+k*14.26;
  const ye=v=>p.esZero-v*p.esScale;
  const yr=v=>p.rkZero-v*p.rkScale;

  const t1=el('text',{x:5,y:45,'font-family':SANS,'font-size':50,fill:'#000'},g,p.letter);
  
  
  const t2=el('text',{x:97,y:45,'font-family':SANS,'font-size':40,fill:'#000'},g,p.gene);
  
  

  const z=el('line',{x1:BOX_L,x2:BOX_R,y1:ye(0),y2:ye(0),stroke:'#bbb','stroke-width':2,'stroke-dasharray':'4,4'},g);
  
  
  p.es.forEach((s,i)=>{
    const pl=el('polyline',{points:s.map(d=>xs(d[0]).toFixed(1)+','+ye(d[1]).toFixed(1)).join(' '),fill:'none',stroke:seriesColors[i],'stroke-width':3,'stroke-linejoin':'round'},g);
    
    
  });
  const ax=el('line',{x1:BOX_L,x2:BOX_L,y1:ye(p.esRange[0]),y2:ye(p.esRange[1]),stroke:'#000','stroke-width':2},g);
  
  
  [p.esRange[0],p.esRange[1]].forEach(v=>{el('line',{x1:BOX_L-4,x2:BOX_L,y1:ye(v),y2:ye(v),stroke:'#000','stroke-width':2},g);});
  p.esTicks.forEach(v=>{
    el('line',{x1:BOX_L-12,x2:BOX_L,y1:ye(v),y2:ye(v),stroke:'#000','stroke-width':2},g);
    const tl=el('text',{x:BOX_L-15,y:ye(v)+8,'text-anchor':'end','font-family':SERIF,'font-size':23},g,fmt(v));
    
    
  });
  const yt=el('text',{x:0,y:0,transform:`translate(${p.esTitleX},${(ES_T+ES_B)/2}) rotate(-90)`,'text-anchor':'middle','font-family':SERIF,'font-size':24},g,p.esTitle);
  
  
  if(p.esTitle!=='Enrichment score'){yt.setAttribute('text-anchor','start');yt.setAttribute('transform',`translate(${p.esTitleX},282) rotate(-90)`);}

  const rowH=(RUG_B-ES_B)/5;
  p.rug.forEach((arr,i)=>{
    const y0=ES_B+i*rowH;
    const rg=el('g',{},g);
    
    
    arr.forEach(k=>{el('line',{x1:xs(k),x2:xs(k),y1:y0+2,y2:y0+rowH-2,stroke:seriesColors[i],'stroke-width':2.6},rg);});
  });
  for(let i=0;i<=5;i++){el('line',{x1:BOX_L,x2:BOX_R,y1:ES_B+i*rowH,y2:ES_B+i*rowH,stroke:'#000','stroke-width':2.2},g);}

  const pts=[[xs(p.ranked[0][0]),yr(0)]].concat(p.ranked.map(d=>[xs(d[0]),yr(d[1])])).concat([[xs(p.ranked[p.ranked.length-1][0]),yr(0)]]);
  const area=el('polygon',{points:pts.map(q=>q[0].toFixed(1)+','+q[1].toFixed(1)).join(' '),fill:'#4DBBD5',stroke:'#4DBBD5','stroke-width':1.5},g);
  
  
  el('line',{x1:BOX_L,x2:BOX_R,y1:yr(0),y2:yr(0),stroke:'#bbb','stroke-width':2,'stroke-dasharray':'4,4'},g);
  el('line',{x1:BOX_L,x2:BOX_L,y1:yr(p.rkRange[0]),y2:yr(p.rkRange[1]),stroke:'#000','stroke-width':2},g);
  [p.rkRange[0],p.rkRange[1]].forEach(v=>{el('line',{x1:BOX_L-4,x2:BOX_L,y1:yr(v),y2:yr(v),stroke:'#000','stroke-width':2},g);});
  p.rankTicks.forEach(v=>{
    el('line',{x1:BOX_L-12,x2:BOX_L,y1:yr(v),y2:yr(v),stroke:'#000','stroke-width':2},g);
    const tl=el('text',{x:BOX_L-15,y:yr(v)+8,'text-anchor':'end','font-family':SERIF,'font-size':23},g,fmt(v));
    
    
  });
  const rt=el('text',{x:0,y:0,transform:`translate(${p.rkTitleX},${(RUG_B+RK_B)/2}) rotate(-90)`,'text-anchor':'middle','font-family':SERIF,'font-size':24},g,'Ranked list metric');
  
  
  const th=el('text',{x:140.6,y:513,'text-anchor':'middle','font-family':SERIF,'font-size':23},g,p.top);
  
  
  const bh=el('text',{x:907,y:725,'text-anchor':'middle','font-family':SERIF,'font-size':23},g,p.bot);
  
  

  p.legend.forEach((txt,i)=>{
    const cy=p.legY[i];
    const lg=el('g',{},g);
    
    
    el('line',{x1:p.legX-13,x2:p.legX-4,y1:cy-4,y2:cy-4,stroke:seriesColors[i],'stroke-width':3},lg);
    el('text',{x:p.legX,y:cy+6,'font-family':SERIF,'font-size':18,fill:seriesColors[i],textLength:p.legW[i],lengthAdjust:'spacingAndGlyphs'},lg,txt);
  });

  const bx=el('rect',{x:BOX_L,y:ES_T,width:BOX_R-BOX_L,height:RK_B-ES_T,fill:'none',stroke:'#000','stroke-width':2.2},g);
  
  

  xTicks.forEach((v,i)=>{
    el('line',{x1:xs(v/1000),x2:xs(v/1000),y1:RK_B,y2:RK_B+9,stroke:'#000','stroke-width':2},g);
    const tl=el('text',{x:xs(v/1000),y:780,'text-anchor':'middle','font-family':SERIF,'font-size':23},g,xTickLabels[i]);
    
    
  });
  el('line',{x1:xs(0),x2:xs(56.7),y1:RK_B+1,y2:RK_B+1,stroke:'#000','stroke-width':2},g);
  const xt=el('text',{x:524,y:809,'text-anchor':'middle','font-family':SERIF,'font-size':24},g,'Rank in Ordered DataSet');
  
  
});
</script>
</body></html>
